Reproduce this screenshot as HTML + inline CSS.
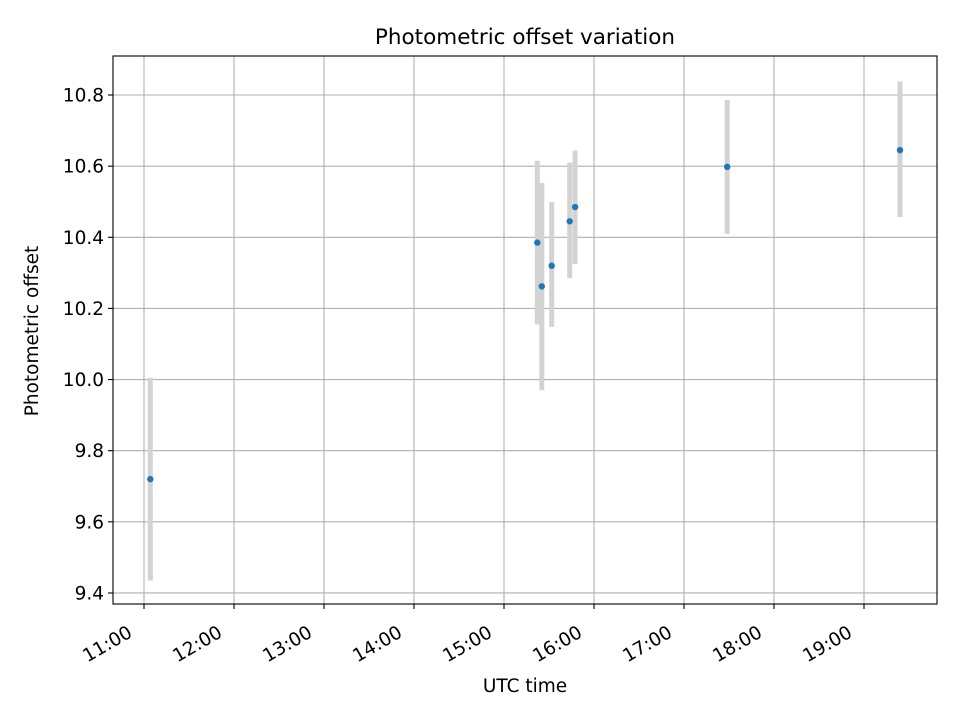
<!DOCTYPE html>
<html><head><meta charset="utf-8"><style>
body{margin:0;background:#fff;font-family:"DejaVu Sans","Liberation Sans",sans-serif}
</style></head><body>
<svg id="c" width="960" height="720" xmlns="http://www.w3.org/2000/svg" style="font-family:'DejaVu Sans','Liberation Sans',sans-serif">
<rect width="960" height="720" fill="#fff"/>
<text x="525" y="44" text-anchor="middle" style="font-size:21.5px">Photometric offset variation</text>
<text x="525" y="692" text-anchor="middle" style="font-size:18.5px">UTC time</text>
<text transform="translate(38,331) rotate(-90)" text-anchor="middle" style="font-size:18.5px">Photometric offset</text>
<g id="grid"></g><g id="marks"></g><g id="axes"></g>
</svg>
<script>
const times=[11.07,15.37,15.42,15.53,15.73,15.79,17.48,19.40];
const values=[9.72,10.385,10.262,10.32,10.445,10.485,10.598,10.645];
const errLow=[9.435,10.155,9.970,10.148,10.285,10.325,10.41,10.457];
const errHigh=[10.005,10.615,10.553,10.499,10.610,10.644,10.786,10.838];
const xTicks=[11,12,13,14,15,16,17,18,19];
const xTickLabels=["11:00","12:00","13:00","14:00","15:00","16:00","17:00","18:00","19:00"];
const yTicks=[9.4,9.6,9.8,10.0,10.2,10.4,10.6,10.8];
const yTickLabels=["9.4","9.6","9.8","10.0","10.2","10.4","10.6","10.8"];
const L=113,R=937,T=56,B=604;
const xs=t=>144+(t-11)*90;
const ys=v=>95+(10.8-v)*355.7;
const NS="http://www.w3.org/2000/svg";
function mk(tag,attrs,parent,txt){const e=document.createElementNS(NS,tag);for(const k in attrs)e.setAttribute(k,attrs[k]);if(txt!==undefined)e.textContent=txt;parent.appendChild(e);return e;}
const grid=document.getElementById('grid'),marks=document.getElementById('marks'),axes=document.getElementById('axes');
xTicks.forEach((t,i)=>{const x=xs(t);
 const g=mk('line',{x1:x,x2:x,y1:T,y2:B,stroke:'#b0b0b0','stroke-width':1.1},grid);
 
 const tk=mk('line',{x1:x,x2:x,y1:B,y2:B+5,stroke:'#000','stroke-width':1.1},axes);
 
 const bx=x-10.5,by=B+32;
 const lb=mk('text',{x:bx,y:by,'text-anchor':'end',style:'font-size:18.5px',transform:`rotate(-30 ${bx} ${by})`},axes,xTickLabels[i]);
 
});
yTicks.forEach((v,i)=>{const y=ys(v);
 const g=mk('line',{x1:L,x2:R,y1:y,y2:y,stroke:'#b0b0b0','stroke-width':1.1},grid);
 
 const tk=mk('line',{x1:L-5,x2:L,y1:y,y2:y,stroke:'#000','stroke-width':1.1},axes);
 
 const lb=mk('text',{x:L-9,y:y+6.5,'text-anchor':'end',style:'font-size:18.5px'},axes,yTickLabels[i]);
 
});
times.forEach((t,i)=>{const x=xs(t);
 const e=mk('line',{x1:x,x2:x,y1:ys(errHigh[i]),y2:ys(errLow[i]),stroke:'#d3d3d3','stroke-width':5},marks);
 
});
times.forEach((t,i)=>{
 const p=mk('circle',{cx:xs(t),cy:ys(values[i]),r:3.2,fill:'#1f77b4'},marks);
 
});
const f=mk('rect',{x:L,y:T,width:R-L,height:B-T,fill:'none',stroke:'#000','stroke-width':1.1},axes);

</script>
</body></html>
